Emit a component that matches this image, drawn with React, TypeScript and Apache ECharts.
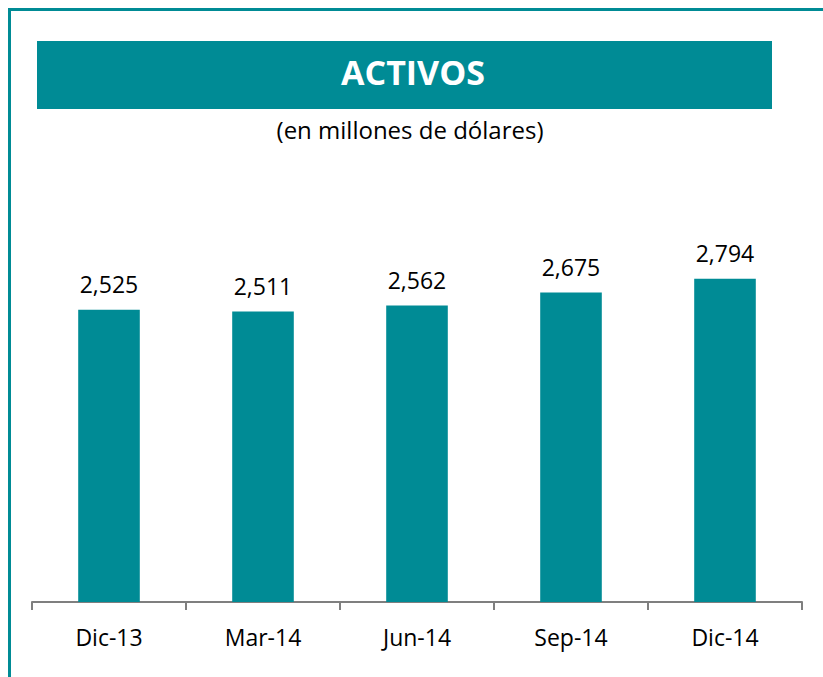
import React, { useEffect, useRef } from "react";
import * as echarts from "echarts";

const categories = ["Dic-13", "Mar-14", "Jun-14", "Sep-14", "Dic-14"];
const activos = [2525, 2511, 2562, 2675, 2794];
const titleText = "ACTIVOS";
const subtitleText = "(en millones de dólares)";

const TEAL = "#008B95";
const FONT = "'Open Sans', sans-serif";

export default function App() {
  const ref = useRef<HTMLDivElement>(null);
  useEffect(() => {
    document.body.style.margin = "0";
    const chart = echarts.init(ref.current!, null, { renderer: "svg" });
    chart.setOption({
      animation: false,
      backgroundColor: "#ffffff",
      textStyle: { fontFamily: FONT },
      grid: { left: 32, right: 21, top: 197, bottom: 75, containLabel: false },
      xAxis: {
        type: "category",
        data: categories,
        axisLine: { lineStyle: { color: "#7f7f7f", width: 2 } },
        axisTick: { show: true, length: 8, lineStyle: { color: "#7f7f7f", width: 2 } },
        axisLabel: { color: "#000", fontSize: 23, fontFamily: FONT, margin: 23 },
      },
      yAxis: {
        type: "value",
        min: 0,
        max: 3500,
        show: false,
        splitLine: { show: false },
      },
      series: [
        {
          type: "bar",
          data: activos,
          barWidth: "40%",
          itemStyle: { color: TEAL },
          label: {
            show: true,
            position: "top",
            distance: 14,
            color: "#000",
            fontSize: 23,
            fontFamily: FONT,
            formatter: (p: any) => Number(p.value).toLocaleString("en-US"),
          },
        },
      ],
      graphic: [
        { type: "line", shape: { x1: 8, y1: 9.5, x2: 823, y2: 9.5 }, style: { stroke: TEAL, lineWidth: 3 } },
        { type: "line", shape: { x1: 9.5, y1: 8, x2: 9.5, y2: 677 }, style: { stroke: TEAL, lineWidth: 3 } },
        { type: "rect", shape: { x: 37, y: 41, width: 735, height: 68 }, style: { fill: TEAL } },
        {
          type: "text",
          x: 413,
          y: 72,
          style: {
            text: titleText,
            fill: "#fff",
            font: `bold 34px ${FONT}`,
            textAlign: "center",
            textVerticalAlign: "middle",
          },
        },
        {
          type: "text",
          x: 410,
          y: 129,
          style: {
            text: subtitleText,
            fill: "#000",
            font: `24px ${FONT}`,
            textAlign: "center",
            textVerticalAlign: "middle",
          },
        },
      ],
    });
    return () => chart.dispose();
  }, []);
  return <div ref={ref} style={{ width: 823, height: 677, position: "absolute", left: 0, top: 0 }} />;
}
